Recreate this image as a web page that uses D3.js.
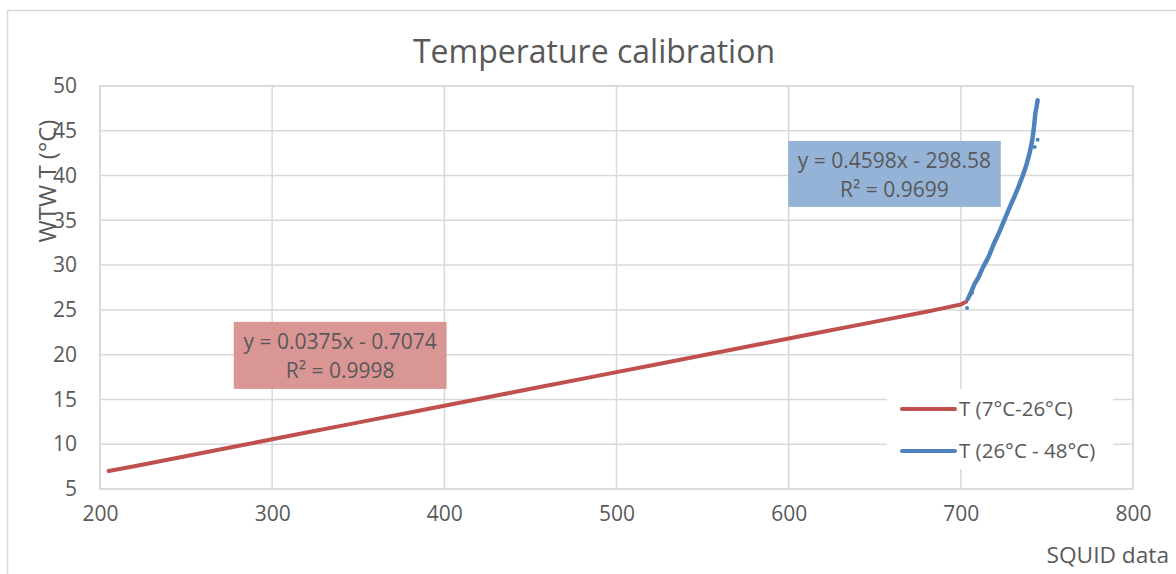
<!DOCTYPE html>
<html><head><meta charset="utf-8">
<script src="https://cdn.jsdelivr.net/npm/d3@7"></script>
<style>
html,body{margin:0;padding:0;background:#fff;}
text{font-family:"Open Sans",sans-serif;fill:#595959;}
</style></head>
<body>
<svg id="chart" width="1176" height="574"></svg>
<script>
// ---- data ----
const title = "Temperature calibration";
const xLabel = "SQUID data";
const yLabel = "WTW T (°C)";
const xTicks = [200, 300, 400, 500, 600, 700, 800];
const yTicks = [5, 10, 15, 20, 25, 30, 35, 40, 45, 50];
const seriesNames = ["T (7°C-26°C)", "T (26°C - 48°C)"];
const redX = [205, 220, 240, 260, 280, 300, 320, 340, 360, 380, 400, 420, 440, 460, 480, 500, 520, 540, 560, 580, 600, 620, 640, 660, 680, 690, 700, 703];
const redY = [7.0, 7.55, 8.3, 9.05, 9.8, 10.55, 11.3, 12.05, 12.8, 13.55, 14.3, 15.05, 15.8, 16.55, 17.3, 18.05, 18.8, 19.55, 20.3, 21.05, 21.8, 22.55, 23.3, 24.05, 24.8, 25.2, 25.6, 25.9];
const blueX = [704, 706, 708, 710.4, 713, 716.2, 719, 722, 725, 727.8, 731, 733.6, 736, 737.8, 739.5, 740.4, 741.5, 742.3, 742.8, 743.3, 744, 744.6];
const blueY = [26.2, 27.0, 27.9, 28.7, 29.8, 30.95, 32.3, 33.55, 34.9, 36.2, 37.6, 38.8, 40.0, 41.0, 42.2, 42.9, 44.0, 45.1, 46.0, 47.0, 47.7, 48.4];
const blueOutX = [703.6, 742.9, 744.6, 706.5];
const blueOutY = [25.2, 43.2, 44.0, 26.9];
const redEq = ["y = 0.0375x - 0.7074", "R² = 0.9998"];
const blueEq = ["y = 0.4598x - 298.58", "R² = 0.9699"];

// ---- layout ----
const svg = d3.select("#chart");
const x = d3.scaleLinear().domain([200, 800]).range([100, 1133]);
const y = d3.scaleLinear().domain([5, 50]).range([489, 86]);
const red = "#C0504D", blue = "#4F81BD", grid = "#d9d9d9";

// outer chart border (left and top)
svg.append("path").attr("d", "M7.5,574 V10.5 H1176").attr("fill", "none").attr("stroke", grid).attr("stroke-width", 1.5);

// gridlines
svg.append("g").selectAll("line").data(yTicks).join("line")
  .attr("x1", x(200)).attr("x2", x(800)).attr("y1", d => y(d)).attr("y2", d => y(d))
  .attr("stroke", grid).attr("stroke-width", 1.5);
svg.append("g").selectAll("line").data(xTicks).join("line")
  .attr("y1", y(5)).attr("y2", y(50)).attr("x1", d => x(d)).attr("x2", d => x(d))
  .attr("stroke", grid).attr("stroke-width", 1.5);

// axes labels (tick text)
const yAxis = d3.axisLeft(y).tickValues(yTicks).tickSize(0).tickPadding(23);
const gy = svg.append("g").attr("transform", `translate(${x(200)},0)`).call(yAxis);
gy.select(".domain").remove();
gy.selectAll("text").style("font-size", "21px").style("font-family", '"Open Sans",sans-serif').attr("fill", "#595959");

const xAxis = d3.axisBottom(x).tickValues(xTicks).tickSize(0).tickPadding(17);
const gx = svg.append("g").attr("transform", `translate(0,${y(5)})`).call(xAxis);
gx.select(".domain").remove();
gx.selectAll("text").style("font-size", "21px").style("font-family", '"Open Sans",sans-serif').attr("fill", "#595959");

// plot-area frame
svg.append("rect").attr("x", x(200)).attr("y", y(50)).attr("width", x(800) - x(200)).attr("height", y(5) - y(50))
  .attr("fill", "none").attr("stroke", grid).attr("stroke-width", 1.5);

// title & axis titles
svg.append("text").attr("x", 594).attr("y", 63).attr("text-anchor", "middle").style("font-size", "32px").text(title);
svg.append("text").attr("x", 1169).attr("y", 563).attr("text-anchor", "end").style("font-size", "22.7px").text(xLabel);
svg.append("text").attr("transform", "translate(56,181) rotate(-90)").attr("text-anchor", "middle").style("font-size", "24px").text(yLabel);

// series
const line = d3.line().x(d => x(d[0])).y(d => y(d[1])).curve(d3.curveLinear);
const redPts = redX.map((v, i) => [v, redY[i]]);
const bluePts = blueX.map((v, i) => [v, blueY[i]]);
svg.append("path").attr("d", line(redPts)).attr("fill", "none").attr("stroke", red).attr("stroke-width", 4).attr("stroke-linecap", "round").attr("stroke-linejoin", "round");
svg.append("path").attr("d", line(bluePts)).attr("fill", "none").attr("stroke", blue).attr("stroke-width", 4.5).attr("stroke-linecap", "round").attr("stroke-linejoin", "round");
svg.append("g").selectAll("circle").data(blueOutX.map((v, i) => [v, blueOutY[i]])).join("circle")
  .attr("cx", d => x(d[0])).attr("cy", d => y(d[1])).attr("r", 2).attr("fill", blue);

// trendline labels
function eqBox(x0, x1, yTop, yBot, fill, lines) {
  const bx = x(x0), by = y(yTop), bw = x(x1) - x(x0), bh = y(yBot) - y(yTop);
  svg.append("rect").attr("x", bx).attr("y", by).attr("width", bw).attr("height", bh).attr("fill", fill);
  lines.forEach((t, i) => {
    svg.append("text").attr("x", bx + bw / 2).attr("y", by + 27 + i * 29).attr("text-anchor", "middle").style("font-size", "21px").text(t);
  });
}
eqBox(277.7, 401.3, 23.66, 16.18, "#DA9694", redEq);
eqBox(599.7, 723.2, 43.86, 36.5, "#95B3D7", blueEq);

// legend
const lg = svg.append("g");
lg.append("rect").attr("x", 887).attr("y", 389).attr("width", 226).attr("height", 80).attr("fill", "#fff");
[red, blue].forEach((c, i) => {
  const ly = 409 + i * 42;
  lg.append("line").attr("x1", 902).attr("x2", 955).attr("y1", ly).attr("y2", ly).attr("stroke", c).attr("stroke-width", 4).attr("stroke-linecap", "round");
  lg.append("text").attr("x", 959).attr("y", ly + 7).style("font-size", "20.5px").text(seriesNames[i]);
});
</script>
</body></html>
